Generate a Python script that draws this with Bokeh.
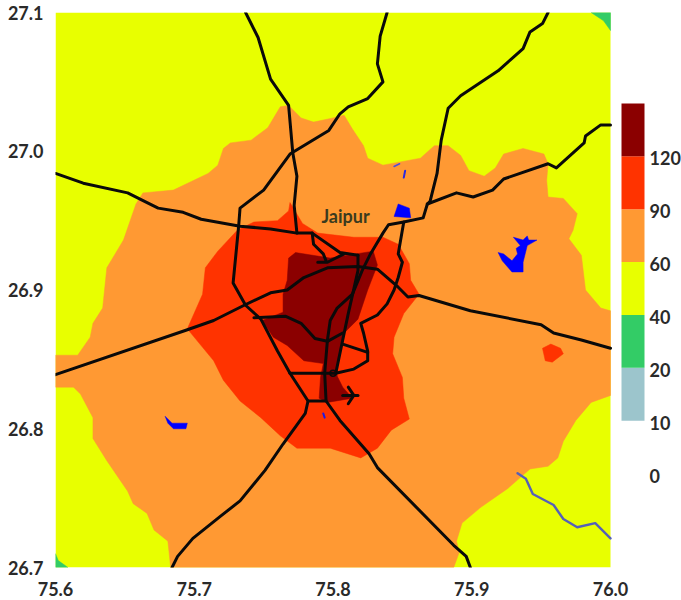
from bokeh.plotting import figure
from bokeh.embed import file_html
from bokeh.resources import INLINE
from bokeh.models import Range1d, FixedTicker, Label
from bokeh.core.properties import value
import math

# Filled concentration zones (lon, lat)
zone_60_90 = [(75.600,26.853),(75.616,26.853),(75.625,26.866),(75.627,26.876),(75.634,26.887),(75.637,26.916),(75.649,26.936),(75.658,26.962),(75.663,26.970),(75.685,26.972),(75.710,26.984),(75.717,26.990),(75.721,27.002),(75.726,27.006),(75.741,27.008),(75.753,27.017),(75.762,27.032),(75.768,27.033),(75.777,27.024),(75.786,27.021),(75.800,27.024),(75.808,27.026),(75.814,27.016),(75.822,27.004),(75.825,26.995),(75.836,26.990),(75.863,26.995),(75.873,27.004),(75.883,27.004),(75.892,26.997),(75.898,26.986),(75.909,26.982),(75.917,26.988),(75.923,26.998),(75.937,27.002),(75.952,26.998),(75.955,26.991),(75.954,26.979),(75.955,26.967),(75.966,26.966),(75.976,26.955),(75.973,26.943),(75.970,26.937),(75.979,26.925),(75.982,26.900),(75.993,26.887),(76.000,26.885),(76.000,26.824),(75.986,26.819),(75.975,26.806),(75.966,26.791),(75.962,26.779),(75.955,26.773),(75.942,26.771),(75.926,26.757),(75.906,26.743),(75.893,26.732),(75.889,26.719),(75.891,26.711),(75.887,26.700),(75.683,26.700),(75.681,26.719),(75.671,26.727),(75.666,26.739),(75.656,26.746),(75.652,26.755),(75.637,26.777),(75.627,26.793),(75.627,26.808),(75.618,26.825),(75.613,26.830),(75.600,26.830)]
zone_90_120 = [(75.769,26.963),(75.778,26.948),(75.789,26.941),(75.815,26.938),(75.836,26.938),(75.847,26.933),(75.855,26.919),(75.856,26.907),(75.862,26.897),(75.851,26.883),(75.844,26.866),(75.843,26.854),(75.850,26.837),(75.851,26.822),(75.855,26.807),(75.842,26.799),(75.832,26.786),(75.820,26.779),(75.798,26.786),(75.774,26.786),(75.762,26.795),(75.748,26.808),(75.733,26.820),(75.721,26.835),(75.714,26.849),(75.695,26.872),(75.706,26.897),(75.708,26.916),(75.717,26.928),(75.731,26.943),(75.743,26.949),(75.760,26.950),(75.768,26.957)]
zone_90_120_spot = [(75.951,26.858),(75.957,26.861),(75.964,26.858),(75.966,26.854),(75.958,26.848),(75.953,26.849)]
zone_120_plus = [(75.773,26.927),(75.798,26.923),(75.829,26.928),(75.832,26.918),(75.825,26.900),(75.818,26.879),(75.808,26.869),(75.803,26.844),(75.803,26.838),(75.807,26.830),(75.814,26.822),(75.796,26.819),(75.790,26.822),(75.791,26.837),(75.793,26.847),(75.779,26.849),(75.767,26.860),(75.757,26.866),(75.749,26.878),(75.764,26.884),(75.764,26.897),(75.767,26.907),(75.768,26.923)]
zone_20_40_ne = [(75.986,27.100),(76.000,27.100),(76.000,27.087),(75.995,27.094)]
zone_20_40_sw = [(75.600,26.710),(75.602,26.705),(75.609,26.700),(75.600,26.700)]

# Roads
road_west = [(75.600,26.984),(75.620,26.977),(75.652,26.970),(75.666,26.963),(75.674,26.959),(75.692,26.956),(75.705,26.951),(75.733,26.946),(75.755,26.944),(75.774,26.941),(75.785,26.941),(75.805,26.927),(75.818,26.925)]
road_sw_east = [(75.600,26.839),(75.694,26.871),(75.714,26.878),(75.736,26.889),(75.755,26.898),(75.767,26.900),(75.779,26.909),(75.796,26.916),(75.818,26.917),(75.832,26.915),(75.847,26.902),(75.854,26.895),(75.862,26.896),(75.899,26.885),(75.950,26.875),(75.959,26.869),(75.979,26.864),(76.000,26.858)]
road_north_1 = [(75.737,27.100),(75.746,27.082),(75.755,27.052),(75.768,27.033),(75.771,26.999),(75.774,26.982),(75.772,26.961),(75.774,26.941)]
road_north_2 = [(75.839,27.100),(75.834,27.083),(75.832,27.063),(75.836,27.050),(75.825,27.038),(75.811,27.032),(75.805,27.027),(75.797,27.015),(75.769,26.998),(75.750,26.972),(75.733,26.959),(75.732,26.946),(75.728,26.905),(75.737,26.889),(75.748,26.879),(75.760,26.856),(75.769,26.840),(75.782,26.820),(75.780,26.811),(75.764,26.789),(75.751,26.770),(75.733,26.748),(75.719,26.737),(75.699,26.721),(75.688,26.708),(75.684,26.700)]
road_northeast = [(75.955,27.100),(75.951,27.092),(75.942,27.086),(75.937,27.074),(75.919,27.058),(75.892,27.040),(75.883,27.031),(75.878,27.008),(75.875,26.984),(75.870,26.964),(75.868,26.962),(75.865,26.952),(75.851,26.949),(75.840,26.947),(75.836,26.941),(75.827,26.926),(75.821,26.914),(75.814,26.897),(75.803,26.887),(75.798,26.878),(75.796,26.864),(75.794,26.840),(75.795,26.820),(75.805,26.806),(75.826,26.782),(75.832,26.772),(75.887,26.716),(75.896,26.708),(75.899,26.700)]
road_east = [(75.868,26.962),(75.889,26.970),(75.901,26.967),(75.915,26.972),(75.923,26.980),(75.955,26.991),(75.961,26.988),(75.981,27.006),(75.982,27.011),(75.993,27.019),(76.000,27.019)]
road_b = [(75.818,26.925),(75.818,26.914),(75.811,26.883),(75.807,26.864),(75.802,26.840)]
road_c = [(75.851,26.949),(75.847,26.926),(75.850,26.920),(75.847,26.909),(75.844,26.900),(75.839,26.890),(75.832,26.882),(75.820,26.876),(75.822,26.869),(75.825,26.856),(75.825,26.849),(75.815,26.843),(75.802,26.840)]
road_d = [(75.743,26.880),(75.766,26.881),(75.777,26.876),(75.787,26.865),(75.796,26.863),(75.807,26.869)]
road_e = [(75.807,26.861),(75.825,26.855)]
road_f = [(75.769,26.840),(75.793,26.840),(75.802,26.840)]
road_g = [(75.782,26.820),(75.795,26.820)]
road_h = [(75.785,26.941),(75.786,26.933),(75.793,26.926),(75.795,26.921)]
road_i = [(75.789,26.920),(75.796,26.920),(75.808,26.926)]
plane_body = [(75.807,26.824),(75.818,26.824)]
plane_wing = [(75.811,26.830),(75.815,26.824),(75.811,26.818)]
roads = [road_west, road_sw_east, road_north_1, road_north_2, road_northeast, road_east, road_b, road_c, road_d, road_e, road_f, road_g, road_h, road_i, plane_body, plane_wing]

# Water
lake_north = [(75.847,26.962),(75.855,26.959),(75.856,26.952),(75.844,26.953)]
lake_east = [(75.919,26.927),(75.923,26.926),(75.929,26.921),(75.933,26.926),(75.932,26.930),(75.935,26.932),(75.930,26.938),(75.937,26.936),(75.940,26.939),(75.941,26.936),(75.947,26.936),(75.940,26.932),(75.937,26.920),(75.937,26.913),(75.929,26.913),(75.922,26.921)]
lake_sw = [(75.679,26.809),(75.684,26.804),(75.695,26.804),(75.694,26.800),(75.685,26.800),(75.681,26.804)]
pond_a = [(75.852,26.986),(75.851,26.981)]
pond_b = [(75.844,26.989),(75.848,26.991)]
pond_c = [(75.793,26.811),(75.794,26.808)]
river = [(75.933,26.768),(75.939,26.764),(75.944,26.753),(75.959,26.745),(75.966,26.735),(75.976,26.729),(75.989,26.732),(76.000,26.721)]
junction_lon = [75.800]
junction_lat = [26.840]

# Axes and colour key
lon_ticks = [75.6, 75.7, 75.8, 75.9, 76.0]
lat_ticks = [26.7, 26.8, 26.9, 27.0, 27.1]
key_labels = ["0", "10", "20", "40", "60", "90", "120"]
key_colors = ["#ffffff", "#9cc5cc", "#33cc66", "#e8ff00", "#ff9933", "#ff3300", "#8b0000"]

YELLOW, ORANGE, RED, DARK, GREEN = "#e8ff00", "#ff9933", "#ff3300", "#8b0000", "#33cc66"
FONT = "Lato"
TEXT = "#2a2a2a"
DEG_PER_PX = 0.4 / 555

p = figure(width=681, height=600, output_backend="svg", toolbar_location=None,
           x_range=Range1d(75.6, 75.6 + 626 * DEG_PER_PX), y_range=Range1d(26.7, 27.1),
           min_border_left=55, min_border_right=0, min_border_top=12, min_border_bottom=33,
           outline_line_color=None, background_fill_color="white", border_fill_color="white")
p.grid.visible = False
for ax, ticks in ((p.xaxis[0], lon_ticks), (p.yaxis[0], lat_ticks)):
    ax.ticker = FixedTicker(ticks=ticks)
    ax.major_label_overrides = {t: f"{t:.1f}" for t in ticks}
    ax.axis_line_color = None
    ax.major_tick_line_color = None
    ax.minor_tick_line_color = None
    ax.major_label_text_font = FONT
    ax.major_label_text_font_style = "bold"
    ax.major_label_text_font_size = "18px"
    ax.major_label_text_color = TEXT
p.xaxis[0].major_label_standoff = 8
p.yaxis[0].major_label_standoff = 6


def fill(points, color):
    p.patch([q[0] for q in points], [q[1] for q in points], fill_color=color, line_color=color, line_width=0.5)


def trace(points, color, width):
    p.line([q[0] for q in points], [q[1] for q in points], line_color=color, line_width=width,
           line_join="round", line_cap="round")


p.quad(left=[lon_ticks[0]], right=[lon_ticks[-1]], bottom=[lat_ticks[0]], top=[lat_ticks[-1]],
       fill_color=YELLOW, line_color=None)
fill(zone_20_40_ne, GREEN)
fill(zone_20_40_sw, GREEN)
fill(zone_60_90, ORANGE)
fill(zone_90_120, RED)
fill(zone_90_120_spot, RED)
fill(zone_120_plus, DARK)
for lake in (lake_north, lake_east, lake_sw):
    fill(lake, "#0000ff")
trace(pond_a, "#2a2ae0", 2)
trace(pond_b, "#4a50d8", 1.5)
trace(pond_c, "#1a1ae8", 2)
trace(river, "#5560b8", 2.4)
for road in roads:
    trace(road, "#0a0a0a", 3)
p.scatter(junction_lon, junction_lat, size=6, marker="circle", fill_color=None, line_color="#0a0a0a", line_width=1.6)

# Colour key: equal bins on its own scales, placed inside the widened frame
bin_px = 370 / 7
p.extra_y_ranges["key"] = Range1d(-(567 - 473) / bin_px, 7 + (103 - 12) / bin_px)
p.extra_x_ranges["key"] = Range1d(-(621 - 55) / 23, (681 - 621) / 23)
n = len(key_colors)
p.quad(left=[0] * n, right=[1] * n, bottom=list(range(n)), top=[i + 1 for i in range(n)],
       fill_color=key_colors, line_color=None, x_range_name="key", y_range_name="key")
p.text(x=[1] * n, y=list(range(n)), text=key_labels, x_offset=5, y_offset=2,
       text_font=value(FONT), text_font_style="bold", text_font_size="18px", text_color=TEXT,
       text_align="left", text_baseline="middle", x_range_name="key", y_range_name="key")

p.add_layout(Label(x=75.809, y=26.953, text="Jaipur", text_font=FONT, text_font_style="bold",
                   text_font_size="18px", text_color="#3b3b1e", text_align="center", text_baseline="middle"))
p.add_layout(Label(x=75.647, y=26.690, text="Longitude", text_font=FONT, text_font_style="bold",
                   text_font_size="13px", text_color=TEXT, text_align="center", text_baseline="middle"))
p.add_layout(Label(x=75.591, y=26.745, text="Latitude", text_font=FONT, text_font_style="bold", angle=math.pi / 2,
                   text_font_size="13px", text_color=TEXT, text_align="center", text_baseline="middle"))

open("out.html", "w").write(file_html(p, INLINE))
